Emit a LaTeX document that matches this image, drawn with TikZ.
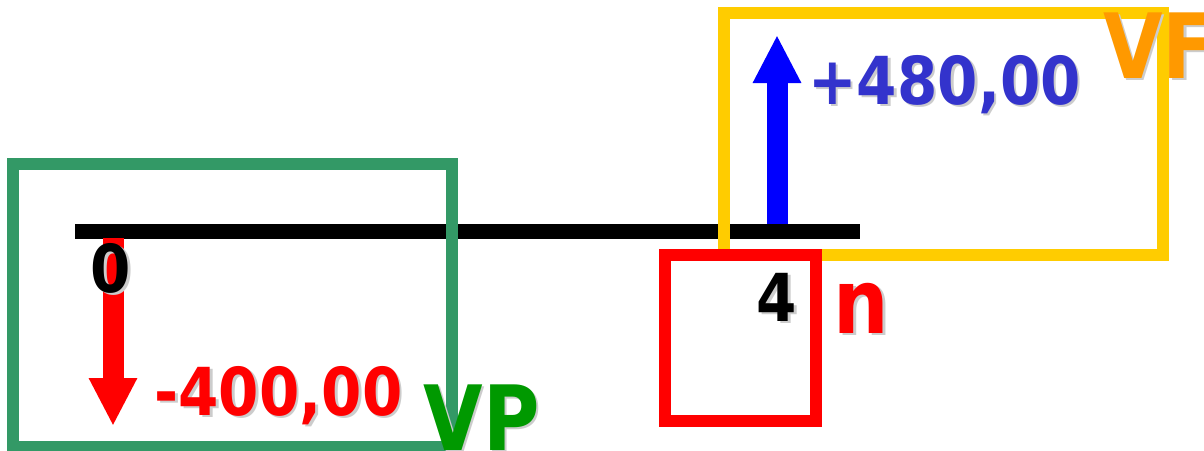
\documentclass[tikz,border=0pt]{standalone}
\usepackage{fontspec}
\usepackage{graphicx}
\setmainfont{DejaVu Sans}
\usetikzlibrary{arrows.meta}
\definecolor{vpgreen}{HTML}{339966}
\definecolor{vptext}{HTML}{009900}
\definecolor{vfbox}{HTML}{FFCC00}
\definecolor{vftext}{HTML}{FF9900}
\definecolor{numblue}{HTML}{3333CC}
\definecolor{arrblue}{HTML}{0000FF}
\tikzset{
  frame/.style={draw=#1, line width=12pt},
  txt/.style={text=#1, inner sep=0pt, outer sep=0pt},
  flow/.style={line width=21pt, -{Triangle[width=45pt,length=48pt]}},
}
% \shtext{name}{position}{anchor}{colour}{size}{yscale}{text}
\newcommand{\shtext}[7]{%
  \node[txt=gray!40, anchor=#3, font=\bfseries\fontsize{#5}{#5}\selectfont]
    at ($#2+(2.5,2.5)$) {\scalebox{1}[#6]{#7}};
  \node[txt=#4, anchor=#3, font=\bfseries\fontsize{#5}{#5}\selectfont]
    (#1) at #2 {\scalebox{1}[#6]{#7}};
}
\usetikzlibrary{calc}
\begin{document}
\begin{tikzpicture}[x=1pt,y=-1pt]
\useasboundingbox (0,0) rectangle (1204,450);
% axis
\coordinate (a0) at (75,231);
\coordinate (a4) at (860,231);
\draw[line width=15pt] (a0) -- (a4);
% arrows
\coordinate (p0) at (113,238);
\coordinate (p0end) at (113,426);
\draw[flow, red] (p0) -- (p0end);
\coordinate (f4) at (777,224);
\coordinate (f4end) at (777,35);
\draw[flow, arrblue] (f4) -- (f4end);
% boxes
\node[frame=vpgreen, minimum width=439pt, minimum height=283pt, inner sep=0pt] (vpbox) at (232.5,305.5) {};
\node[frame=vfbox, minimum width=439pt, minimum height=241.5pt, inner sep=0pt] (vfbox) at (943.5,133.75) {};
\node[frame=red, minimum width=151.5pt, minimum height=166.5pt, inner sep=0pt] (nbox) at (740.25,337.75) {};
% texts
\shtext{t0}{(111,292)}{base}{black}{58}{1.14}{0}
\shtext{t4}{(777,321)}{base}{black}{58}{1.14}{4}
\shtext{vpval}{(278.5,415)}{base}{red}{58}{1.14}{-400,00}
\shtext{vfval}{(944.5,104)}{base}{numblue}{58}{1.14}{+480,00}
\shtext{n}{(861.5,333)}{base}{red}{78}{1.15}{n}
\shtext{vp}{(481.5,450)}{base}{vptext}{77}{1.17}{VP}
\shtext{vf}{(1103,78)}{base west}{vftext}{77}{1.17}{VF}
\end{tikzpicture}
\end{document}
